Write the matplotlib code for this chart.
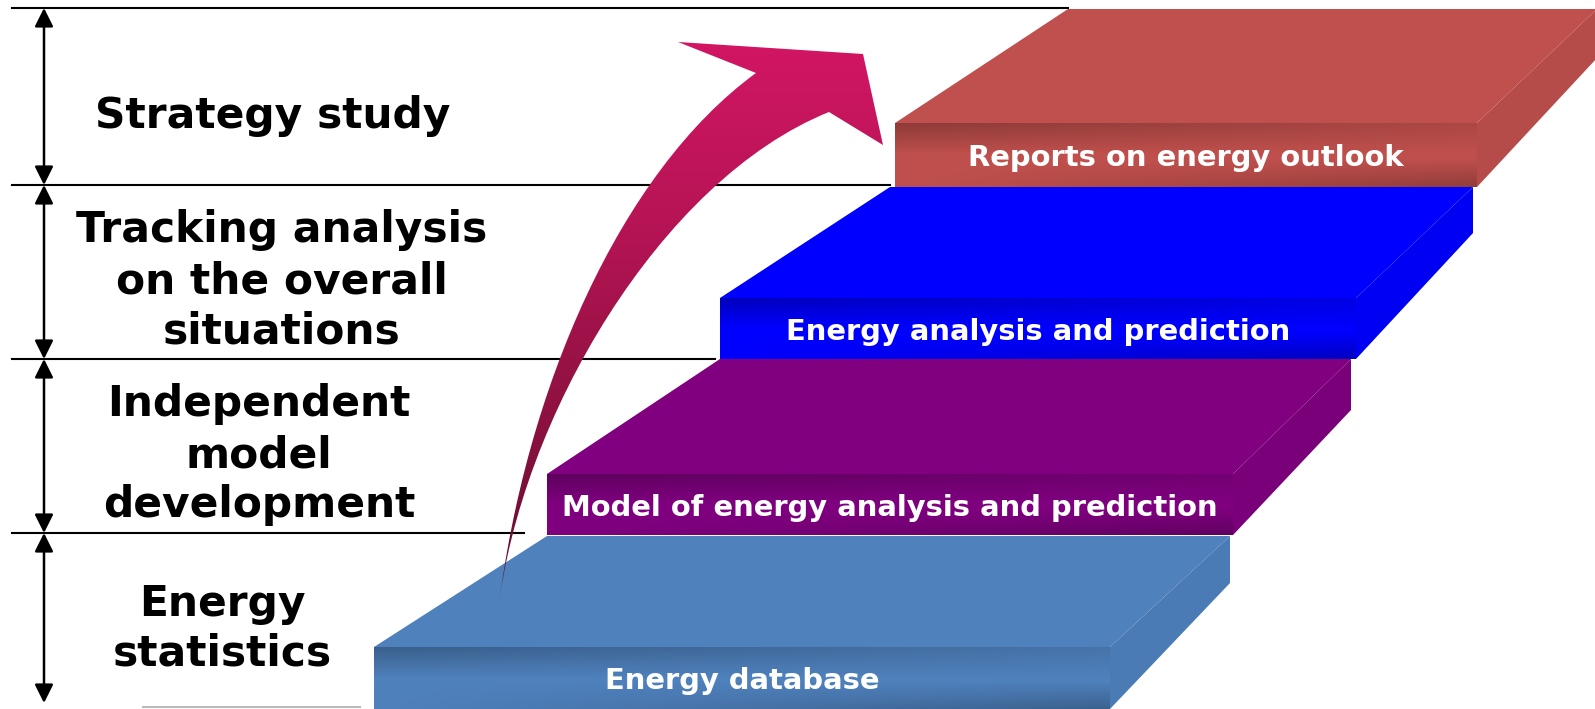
import numpy as np
import matplotlib
matplotlib.use('Agg')
import matplotlib.pyplot as plt
from matplotlib.path import Path
from matplotlib.patches import PathPatch, Polygon
from matplotlib.colors import to_rgb

W, H = 1595, 709

# 台阶（从下到上）
stage_names = ['Energy database', 'Model of energy analysis and prediction',
               'Energy analysis and prediction', 'Reports on energy outlook']
stage_colors = ['#4F81BD', '#800080', '#0000FF', '#C0504D']
front_left = [374, 547, 720, 895]
front_right = [1110, 1233, 1356, 1477]
front_top = [647, 474, 298, 123]
front_bottom = [709, 535, 359, 187]
back_left = [547, 720, 890, 1068]
back_right = [1230, 1351, 1473, 1597]
back_top = [536, 359, 187, 9]
side_bottom = [583, 410, 233, 58]

# 左侧层级说明
level_labels = [['Strategy study'],
                ['Tracking analysis', 'on the overall', 'situations'],
                ['Independent', 'model', 'development'],
                ['Energy', 'statistics']]
label_cx = [273, 282, 259, 222]
label_baselines = [[128], [242, 293, 343], [416, 468, 517], [616, 666]]
level_lines_y = [8, 185, 359, 533]
level_lines_end = [1068, 890, 715, 524]
span_arrows = [(8, 185), (185, 359), (359, 533), (533, 703)]

# 弯曲箭头
arrow_tail = (498, 612)
arrow_left_ctrl = [(525, 390), (620, 172)]
arrow_head = [(756, 73), (678, 42), (863, 54), (883, 145), (829, 112)]
arrow_right_ctrl = [(660, 180), (520, 420)]
arrow_colors = ['#D21664', '#B51454', '#8C1140', '#600C2E']


def front_shade(color, w, h):
    """正面渐变：上方与右下略暗"""
    u = np.linspace(0, 1, w)[None, :]
    v = np.linspace(0, 1, h)[:, None]
    dark = 0.26 * np.clip(1 - v / 0.5, 0, 1) * (1 - 0.6 * u) \
        + 0.24 * np.clip((v - 0.55) / 0.45, 0, 1) * u
    rgb = np.array(to_rgb(color))
    return rgb[None, None, :] * (1 - dark[..., None])


fig = plt.figure(figsize=(W / 100, H / 100), dpi=100)
ax = fig.add_axes([0, 0, 1, 1])
ax.set_xlim(0, W)
ax.set_ylim(H, 0)
ax.axis('off')

# 水平分隔线和双向箭头
for y, x1 in zip(level_lines_y, level_lines_end):
    ax.plot([12, x1], [y, y], color='black', lw=1.5, zorder=1)
ax.plot([143, 360], [707, 707], color='#BBBBBB', lw=1.5, zorder=1)
for y0, y1 in span_arrows:
    ax.annotate('', xy=(44, y0), xytext=(44, y1),
                arrowprops=dict(arrowstyle='<|-|>', color='black', lw=1.8,
                                mutation_scale=28, shrinkA=0, shrinkB=0))

# 左侧文字
for lines, cx, bls in zip(level_labels, label_cx, label_baselines):
    for txt, by in zip(lines, bls):
        ax.text(cx, by, txt, ha='center', va='baseline', fontsize=30.5,
                fontweight='bold', family='DejaVu Sans', color='black')

# 台阶
for i in range(len(stage_names)):
    c = stage_colors[i]
    fl, fr, ft, fb = front_left[i], front_right[i], front_top[i], front_bottom[i]
    bl, br, bt, sb = back_left[i], back_right[i], back_top[i], side_bottom[i]
    z = 2 + i
    ax.add_patch(Polygon([(fl, ft), (bl, bt), (br, bt), (fr, ft)],
                         closed=True, facecolor=c, edgecolor='none', zorder=z))
    side_rgb = np.array(to_rgb(c)) * 0.95
    ax.add_patch(Polygon([(fr, ft), (br, bt), (br, sb), (fr, fb)],
                         closed=True, facecolor=side_rgb, edgecolor='none', zorder=z))
    img = front_shade(c, 200, 60)
    ax.imshow(img, extent=(fl, fr, fb, ft), aspect='auto', zorder=z,
              interpolation='bilinear')
    ax.text((fl + fr) / 2, (ft + fb) / 2 + 3, stage_names[i], ha='center',
            va='center', fontsize=20.9, fontweight='bold', color='white',
            family='DejaVu Sans', zorder=z + 0.5)

# 弯曲箭头（渐变填充）
verts = [arrow_tail, *arrow_left_ctrl, arrow_head[0], *arrow_head[1:],
         *arrow_right_ctrl, arrow_tail, arrow_tail]
codes = [Path.MOVETO, Path.CURVE4, Path.CURVE4, Path.CURVE4,
         Path.LINETO, Path.LINETO, Path.LINETO, Path.LINETO,
         Path.CURVE4, Path.CURVE4, Path.CURVE4, Path.CLOSEPOLY]
arrow_path = Path(verts, codes)
patch = PathPatch(arrow_path, facecolor='none', edgecolor='none', zorder=10)
ax.add_patch(patch)
grad_rgb = np.array([to_rgb(c) for c in arrow_colors])
t = np.linspace(0, 1, 256)
k = np.linspace(0, 1, len(arrow_colors))
grad = np.stack([np.interp(t, k, grad_rgb[:, j]) for j in range(3)], axis=1)
grad_img = np.repeat(grad[:, None, :], 2, axis=1)
im = ax.imshow(grad_img, extent=(490, 890, 612, 40), aspect='auto', zorder=10,
               interpolation='bilinear')
im.set_clip_path(patch)

ax.set_xlim(0, W)
ax.set_ylim(H, 0)
fig.savefig('out.png', dpi=100, facecolor='white')
